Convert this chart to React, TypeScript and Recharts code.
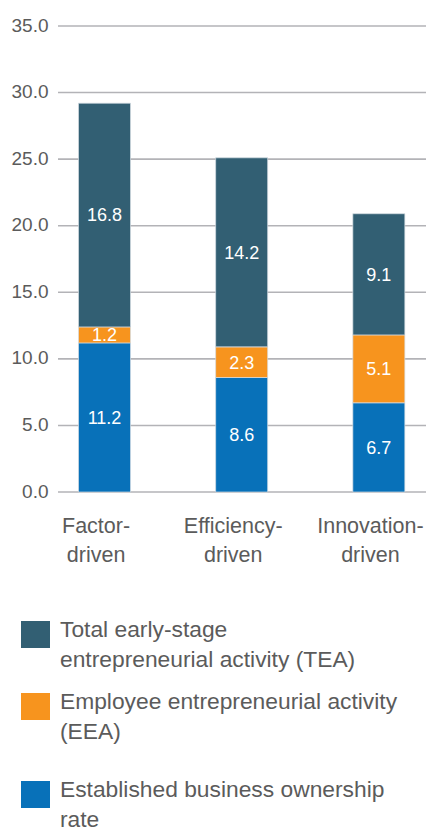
import React from "react";
import { BarChart, Bar, XAxis, YAxis, CartesianGrid, LabelList } from "recharts";

const categories = ["Factor-driven", "Efficiency-driven", "Innovation-driven"];
const ebo = [11.2, 8.6, 6.7];
const eea = [1.2, 2.3, 5.1];
const tea = [16.8, 14.2, 9.1];
const yTicks = [0, 5, 10, 15, 20, 25, 30, 35];

const series = [
  { key: "tea", lines: ["Total early-stage", "entrepreneurial activity (TEA)"], color: "#325f73" },
  { key: "eea", lines: ["Employee entrepreneurial activity", "(EEA)"], color: "#f7941e" },
  { key: "ebo", lines: ["Established business ownership", "rate"], color: "#0871b9" },
];

const data = categories.map((c, i) => ({ cat: c, ebo: ebo[i], eea: eea[i], tea: tea[i] }));

const FONT = "'Liberation Sans', Arial, sans-serif";
const TEXT = "#5b5b5b";

const YTick = (p: any) => (
  <text x={p.x + 13} y={p.y} dy={-1} textAnchor="end" dominantBaseline="central" fontSize={19} fill={TEXT} fontFamily={FONT}>
    {Number(p.payload.value).toFixed(1)}
  </text>
);

const XTick = (p: any) => {
  const parts = String(p.payload.value).split("-");
  return (
    <text x={p.x - 8} y={p.y} textAnchor="middle" fontSize={21.5} fill={TEXT} fontFamily={FONT}>
      <tspan x={p.x - 8} dy={41}>{parts[0] + "-"}</tspan>
      <tspan x={p.x - 8} dy={29}>{parts[1]}</tspan>
    </text>
  );
};

const GridLine = (p: any) => (
  <line key={p.key} x1={p.x1 + 22.5} x2={p.x2} y1={p.y1} y2={p.y2} stroke="#b3b3b7" strokeWidth={1.6} />
);

const labelStyle = { fill: "#ffffff", fontSize: 18, fontFamily: FONT };

export default function App() {
  return (
    <div style={{ position: "absolute", left: 0, top: 0, width: 426, height: 828, overflow: "hidden", background: "#fff" }}>
      <BarChart width={447} height={600} data={data} margin={{ top: 26, right: 0, left: 0, bottom: 0 }} style={{ overflow: "visible" }}>
        <CartesianGrid vertical={false} horizontal={GridLine as any} />
        <XAxis dataKey="cat" axisLine={false} tickLine={false} tickSize={0} tickMargin={0} height={108} tick={<XTick />} interval={0} />
        <YAxis domain={[0, 35]} ticks={yTicks} axisLine={false} tickLine={false} tickSize={0} tickMargin={0} width={35.5} tick={<YTick />} />
        <Bar dataKey="ebo" stackId="a" fill="#0871b9" barSize={52} isAnimationActive={false} stroke="#d5dde3" strokeWidth={0.7}>
          <LabelList dataKey="ebo" position="center" style={labelStyle} formatter={(v: any) => Number(v).toFixed(1)} />
        </Bar>
        <Bar dataKey="eea" stackId="a" fill="#f7941e" barSize={52} isAnimationActive={false} stroke="#d5dde3" strokeWidth={0.7}>
          <LabelList dataKey="eea" position="center" style={labelStyle} formatter={(v: any) => Number(v).toFixed(1)} />
        </Bar>
        <Bar dataKey="tea" stackId="a" fill="#325f73" barSize={52} isAnimationActive={false} stroke="#d5dde3" strokeWidth={0.7}>
          <LabelList dataKey="tea" position="center" style={labelStyle} formatter={(v: any) => Number(v).toFixed(1)} />
        </Bar>
      </BarChart>
      <div style={{ position: "absolute", top: 614, left: 21, fontFamily: FONT, color: TEXT, fontSize: 22.8, lineHeight: "30px" }}>
        {series.map((s, i) => (
          <div key={s.key} style={{ display: "flex", alignItems: "flex-start", marginBottom: i === 1 ? 28 : 12 }}>
            <div style={{ width: 29, height: 27, background: s.color, marginTop: 7, flexShrink: 0 }} />
            <div style={{ marginLeft: 10, whiteSpace: "nowrap" }}>
              {s.lines.map((l, j) => (
                <div key={j}>{l}</div>
              ))}
            </div>
          </div>
        ))}
      </div>
    </div>
  );
}
